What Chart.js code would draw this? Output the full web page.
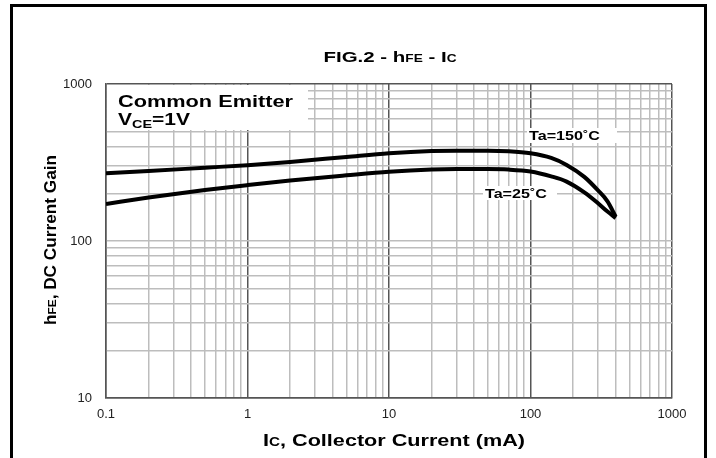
<!DOCTYPE html>
<html>
<head>
<meta charset="utf-8">
<script src="https://cdn.jsdelivr.net/npm/chart.js@4/dist/chart.umd.min.js"></script>
<style>
  html, body { margin: 0; padding: 0; background: #fff; }
  #wrap { width: 716px; height: 458px; position: relative; }
</style>
</head>
<body>
<div id="wrap"><canvas id="c" width="716" height="458"></canvas></div>
<script>
// ---- data ----
const icValues = [0.1, 0.2, 0.5, 1, 2, 5, 10, 20, 30, 50, 70, 100, 140, 180, 240, 300, 350, 400];
const hfe150 = [270, 279, 293, 304, 319, 343, 362, 374, 376, 376, 373, 362, 338, 305, 256, 210, 179, 143];
const hfe25  = [172, 189, 211, 227, 243, 262, 276, 285, 287, 287, 285, 277, 258, 239, 204, 174, 154, 140];

const xTickValues = [0.1, 1, 10, 100, 1000];
const xTickLabels = ['0.1', '1', '10', '100', '1000'];
const yTickValues = [10, 100, 1000];
const yTickLabels = ['10', '100', '1000'];

const seriesNames = ['Ta=150˚C', 'Ta=25˚C'];

// ---- helpers ----
function logTicks(min, max) {
  const out = [];
  const d0 = Math.round(Math.log10(min)), d1 = Math.round(Math.log10(max));
  for (let d = d0; d < d1; d++) {
    for (let m = 1; m <= 9; m++) out.push({ value: parseFloat((m * Math.pow(10, d)).toPrecision(6)) });
  }
  out.push({ value: max });
  return out;
}
function isDecade(v) {
  const l = Math.log10(v);
  return Math.abs(l - Math.round(l)) < 1e-6;
}
function labelFor(v, vals, labels) {
  for (let i = 0; i < vals.length; i++) {
    if (Math.abs(Math.log10(vals[i]) - Math.log10(v)) < 1e-6) return labels[i];
  }
  return '';
}
const FONT = '"Liberation Sans", Arial, Helvetica, sans-serif';
function drawRich(ctx, segs, x, y, width, align, angle) {
  let total = 0;
  segs.forEach(s => {
    ctx.font = 'bold ' + s.size + 'px ' + FONT;
    s.w = ctx.measureText(s.text).width;
    total += s.w;
  });
  const sx = width / total;
  ctx.save();
  ctx.translate(x, y);
  if (angle) ctx.rotate(angle);
  ctx.scale(sx, 1);
  ctx.fillStyle = '#000';
  ctx.textBaseline = 'alphabetic';
  ctx.textAlign = 'left';
  let cx = align === 'center' ? -total / 2 : 0;
  segs.forEach(s => {
    ctx.font = 'bold ' + s.size + 'px ' + FONT;
    ctx.fillText(s.text, cx, s.dy || 0);
    cx += s.w;
  });
  ctx.restore();
}

const decorPlugin = {
  id: 'decor',
  beforeDraw(chart) {
    const ctx = chart.ctx;
    ctx.save();
    ctx.fillStyle = '#fff';
    ctx.fillRect(0, 0, chart.width, chart.height);
    ctx.strokeStyle = '#000';
    ctx.lineWidth = 3;
    ctx.beginPath();
    ctx.moveTo(11.5, 460);
    ctx.lineTo(11.5, 5.5);
    ctx.lineTo(705.5, 5.5);
    ctx.lineTo(705.5, 460);
    ctx.stroke();
    ctx.restore();
  },
  afterDraw(chart) {
    const ctx = chart.ctx;
    // title
    drawRich(ctx, [
      { text: 'FIG.2 - h', size: 15 },
      { text: 'FE', size: 10 },
      { text: ' - I', size: 15 },
      { text: 'C', size: 10 }
    ], 390, 62, 133, 'center');
    // axis titles
    drawRich(ctx, [
      { text: 'I', size: 17 },
      { text: 'C', size: 12 },
      { text: ', Collector Current (mA)', size: 17 }
    ], 394, 446, 262, 'center');
    drawRich(ctx, [
      { text: 'h', size: 16 },
      { text: 'FE', size: 11 },
      { text: ', DC Current Gain', size: 16 }
    ], 56, 240, 170, 'center', -Math.PI / 2);
    // white label boxes
    ctx.save();
    ctx.fillStyle = '#fff';
    ctx.fillRect(107, 85, 201, 45);
    ctx.fillRect(527, 128, 90, 15);
    ctx.fillRect(483, 186, 74, 14);
    ctx.restore();
    drawRich(ctx, [{ text: 'Common Emitter', size: 16 }], 118, 107, 175, 'left');
    drawRich(ctx, [
      { text: 'V', size: 16 },
      { text: 'CE', size: 11, dy: 3 },
      { text: '=1V', size: 16 }
    ], 118, 125, 72, 'left');
    drawRich(ctx, [{ text: seriesNames[0], size: 12 }], 529, 140, 71, 'left');
    drawRich(ctx, [{ text: seriesNames[1], size: 12 }], 485, 198, 62, 'left');
  }
};

new Chart(document.getElementById('c'), {
  type: 'line',
  data: {
    datasets: [
      { label: seriesNames[0], data: icValues.map((x, i) => ({ x: x, y: hfe150[i] })) },
      { label: seriesNames[1], data: icValues.map((x, i) => ({ x: x, y: hfe25[i] })) }
    ].map(d => Object.assign(d, {
      borderColor: '#000', borderWidth: 4, pointRadius: 0, fill: false,
      cubicInterpolationMode: 'monotone'
    }))
  },
  options: {
    responsive: false,
    animation: false,
    devicePixelRatio: 1,
    layout: { padding: { left: 0, top: 84, right: 44, bottom: 0 } },
    plugins: { legend: { display: false }, title: { display: false }, tooltip: { enabled: false } },
    scales: {
      x: {
        type: 'logarithmic', min: 0.1, max: 1000,
        afterBuildTicks: s => { s.ticks = logTicks(0.1, 1000); },
        afterFit: s => { s.height = 60; },
        ticks: {
          autoSkip: false, maxRotation: 0, padding: 9, color: '#222',
          font: { family: FONT, size: 13 },
          callback: v => labelFor(v, xTickValues, xTickLabels)
        },
        grid: {
          drawTicks: false, lineWidth: 1.5,
          color: c => (c.tick && isDecade(c.tick.value)) ? '#555' : '#bdbdbd'
        },
        border: { display: true, color: '#555', width: 1.5 }
      },
      y: {
        type: 'logarithmic', min: 10, max: 1000,
        afterBuildTicks: s => { s.ticks = logTicks(10, 1000); },
        afterFit: s => { s.width = 106; },
        ticks: {
          autoSkip: false, padding: 14, color: '#222',
          font: { family: FONT, size: 13 },
          callback: v => labelFor(v, yTickValues, yTickLabels)
        },
        grid: {
          drawTicks: false, lineWidth: 1.5,
          color: c => (c.tick && (c.tick.value === 10 || c.tick.value === 1000)) ? '#555' : '#bdbdbd'
        },
        border: { display: true, color: '#555', width: 1.5 }
      }
    }
  },
  plugins: [decorPlugin]
});
</script>
</body>
</html>
